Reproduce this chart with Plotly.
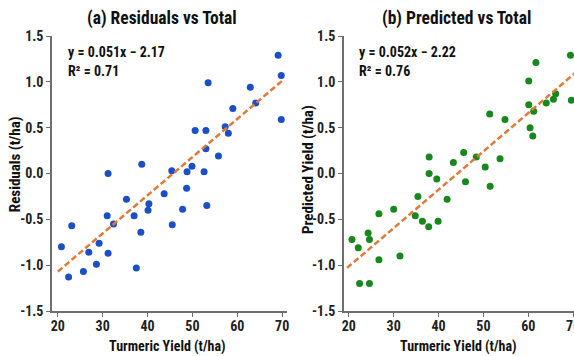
import plotly.graph_objects as go

# ---- data ----
res_x = [69.1, 69.8, 53.5, 62.9, 64.1, 69.8, 59.0, 57.3, 58.0, 50.6, 53.0, 53.0, 55.8,
         31.2, 38.7, 45.4, 48.8, 49.9, 52.6,
         43.7, 35.3, 40.3, 40.1, 48.7, 47.8, 53.2, 31.0, 37.0, 32.4, 45.5, 23.1, 38.5,
         20.8, 29.2, 26.9, 31.2, 28.6, 37.5, 25.7, 22.4]
res_y = [1.29, 1.07, 0.99, 0.94, 0.77, 0.59, 0.71, 0.51, 0.44, 0.47, 0.47, 0.27, 0.19,
         0.00, 0.10, 0.03, 0.02, 0.08, 0.02,
         -0.22, -0.28, -0.33, -0.40, -0.16, -0.39, -0.35, -0.46, -0.46, -0.55, -0.56, -0.57, -0.64,
         -0.80, -0.76, -0.86, -0.87, -0.99, -1.03, -1.07, -1.13]

pred_x = [69.4, 69.6, 61.7, 60.1, 60.1, 61.2, 60.4, 61.0, 64.0, 65.6, 66.1, 51.4, 54.8,
          37.9, 43.3, 45.6, 48.4, 53.7, 50.4, 37.9,
          39.6, 46.0, 51.5, 35.4, 41.9, 30.0, 26.7, 34.8, 36.4, 39.9, 37.8,
          20.7, 24.3, 24.6, 22.1, 31.4, 26.7, 22.4, 24.6]
pred_y = [1.29, 0.80, 1.21, 1.01, 0.75, 0.68, 0.50, 0.41, 0.77, 0.81, 0.87, 0.65, 0.59,
          0.18, 0.12, 0.23, 0.18, 0.16, 0.07, 0.00,
          -0.06, -0.09, -0.14, -0.25, -0.28, -0.39, -0.44, -0.46, -0.52, -0.52, -0.58,
          -0.72, -0.65, -0.72, -0.81, -0.90, -0.94, -1.20, -1.20]

fit_a_x = [20.0, 70.2]
fit_a_y = [-1.07, 1.02]
fit_b_x = [19.6, 71.0]
fit_b_y = [-1.03, 1.12]

titles = ["(a) Residuals vs Total", "(b) Predicted vs Total"]
eq_texts = ["y = 0.051x − 2.17", "y = 0.052x − 2.22"]
r2_texts = ["R² = 0.71", "R² = 0.76"]
y_titles = ["Residuals (t/ha)", "Predicted Yield (t/ha)"]
x_title = "Turmeric Yield (t/ha)"
x_ticks = [20, 30, 40, 50, 60, 70]
y_ticks = [-1.5, -1.0, -0.5, 0.0, 0.5, 1.0, 1.5]
y_ticktext = ["-1.5", "-1.0", "-0.5", "0.0", "0.5", "1.0", "1.5"]

FONT = "Noto Sans ExtraCondensed, Noto Sans Condensed, Roboto Condensed, Liberation Sans Narrow, DejaVu Sans Condensed, sans-serif"
BLUE = "#1b4fc6"
GREEN = "#17891c"
ORANGE = "#e07a38"
AXIS = "#6e6e6e"

W, H = 581, 356
L, T, B = 52, 36, 45
PW = W - L
PH = H - T - B

def px(x):
    return (x - L) / PW

def py(y):
    return (H - B - y) / PH

fig = go.Figure()
fig.add_trace(go.Scatter(x=res_x, y=res_y, mode="markers", xaxis="x", yaxis="y",
                         marker=dict(color=BLUE, size=7), cliponaxis=False))
fig.add_trace(go.Scatter(x=fit_a_x, y=fit_a_y, mode="lines", xaxis="x", yaxis="y",
                         line=dict(color=ORANGE, width=2.5, dash="6px,3px")))
fig.add_trace(go.Scatter(x=pred_x, y=pred_y, mode="markers", xaxis="x2", yaxis="y2",
                         marker=dict(color=GREEN, size=7), cliponaxis=False))
fig.add_trace(go.Scatter(x=fit_b_x, y=fit_b_y, mode="lines", xaxis="x2", yaxis="y2",
                         line=dict(color=ORANGE, width=2.5, dash="6px,3px")))

axis_common = dict(showgrid=False, zeroline=False, showline=True, linecolor=AXIS, linewidth=1.5,
                   ticks="outside", ticklen=4, tickwidth=1.2, tickcolor=AXIS,
                   tickfont=dict(family=FONT, size=14, color="#222", weight="bold"))

fig.update_layout(
    width=W, height=H,
    margin=dict(l=L, r=0, t=T, b=B),
    paper_bgcolor="white", plot_bgcolor="white",
    showlegend=False,
    xaxis=dict(domain=[0, (288 - L) / PW], range=[18.7, 71.1], tickvals=x_ticks, anchor="y",
               ticklabelstandoff=-3, **axis_common),
    yaxis=dict(domain=[0, 1], range=[-1.5, 1.5], tickvals=y_ticks, ticktext=y_ticktext, anchor="x", **axis_common),
    xaxis2=dict(domain=[(345 - L) / PW, 1], range=[18.9, 71.3], tickvals=x_ticks, anchor="y2",
                ticklabelstandoff=-3, **axis_common),
    yaxis2=dict(domain=[0, 1], range=[-1.5, 1.5], tickvals=y_ticks, ticktext=y_ticktext, anchor="x2", **axis_common),
)

ann = []
bold = lambda s: "<b>" + s + "</b>"
for cx, t in zip([162, 458], titles):
    ann.append(dict(text=bold(t), x=px(cx), y=py(18), xref="paper", yref="paper",
                    xanchor="center", yanchor="middle", showarrow=False,
                    font=dict(family=FONT, size=17.5, color="#111")))
for lx, t1, t2 in zip([66, 358], eq_texts, r2_texts):
    ann.append(dict(text=bold(t1), x=px(lx), y=py(52), xref="paper", yref="paper",
                    xanchor="left", yanchor="middle", align="left", showarrow=False,
                    font=dict(family=FONT, size=14, color="#111")))
    ann.append(dict(text=bold(t2), x=px(lx), y=py(71), xref="paper", yref="paper",
                    xanchor="left", yanchor="middle", align="left", showarrow=False,
                    font=dict(family=FONT, size=14, color="#111")))
for cx, cy, t in zip([15, 309], [164, 170], y_titles):
    ann.append(dict(text=bold(t), x=px(cx), y=py(cy), xref="paper", yref="paper",
                    xanchor="center", yanchor="middle", textangle=-90, showarrow=False,
                    font=dict(family=FONT, size=15, color="#111")))
for cx in [168, 460]:
    ann.append(dict(text=bold(x_title), x=px(cx), y=py(346), xref="paper", yref="paper",
                    xanchor="center", yanchor="middle", showarrow=False,
                    font=dict(family=FONT, size=14, color="#111")))
fig.update_layout(annotations=ann)

fig.write_html("out.html",
               post_script="document.documentElement.style.overflow='hidden';document.body.style.overflow='hidden';document.body.style.margin='0';")
